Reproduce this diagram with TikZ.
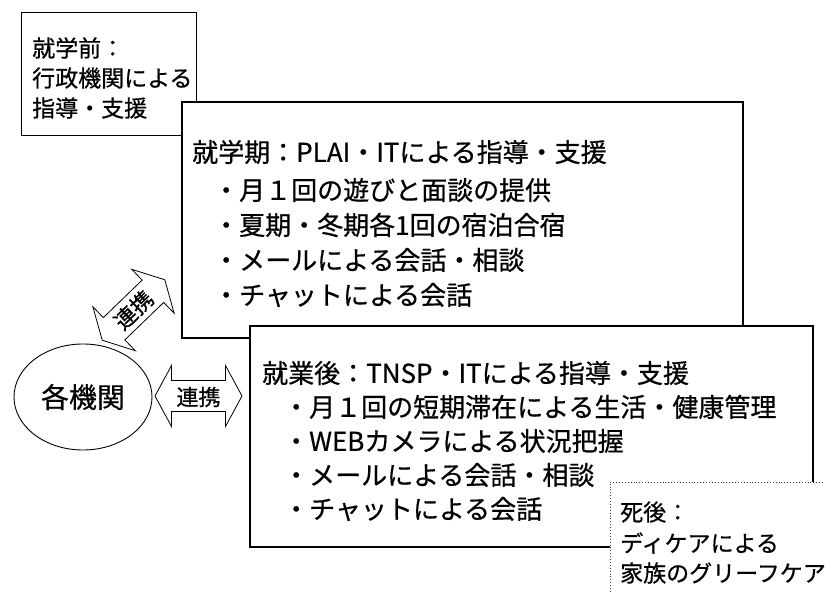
\documentclass[tikz,border=0pt]{standalone}
\usepackage{fontspec}
\setmainfont{Noto Sans CJK JP}[FakeBold=0.6]
\usetikzlibrary{shapes.geometric}
\begin{document}
\begin{tikzpicture}[x=1pt,y=-1pt,
  thinbox/.style={draw, fill=white, line width=1pt, inner sep=0pt},
  thickbox/.style={draw, fill=white, line width=1.8pt, inner sep=0pt},
  dotbox/.style={draw=black!75, fill=white, dotted, line width=0.9pt, inner sep=0pt},
  txt/.style={anchor=west, inner sep=0pt},
  big/.style={font=\fontsize{26}{30}\selectfont},
  small/.style={font=\fontsize{23}{27}\selectfont},
  lbl/.style={inner sep=0pt, font=\fontsize{22}{26}\selectfont},
  dblarrow/.pic={\draw[line width=0.8pt, fill=white]
    (-43.5,0) -- (-27,30.5) -- (-27,15.5) -- (27,15.5) -- (27,30.5) -- (43.5,0)
    -- (27,-30.5) -- (27,-15.5) -- (-27,-15.5) -- (-27,-30.5) -- cycle;}
]
\clip (0,0) rectangle (825,593);
\fill[white] (0,0) rectangle (825,593);

% boxes
\node[thinbox, minimum width=175, minimum height=123] (b0) at (108.5,74.5) {};
\node[thickbox, minimum width=561, minimum height=236] (b1) at (462.5,220) {};
\node[thickbox, minimum width=563, minimum height=221] (b2) at (531.5,436.5) {};
\node[dotbox, minimum width=220, minimum height=118] (b3) at (720,541) {};

% box 0 text
\node[txt, small] (t01) at (32,48) {就学前：};
\node[txt, small] (t02) at (32,78) {行政機関による};
\node[txt, small] (t03) at (32,108) {指導・支援};

% box 1 text
\node[txt, big] (t10) at (192,152) {就学期：PLAI・ITによる指導・支援};
\node[txt, big] (t11) at (213,190) {・月１回の遊びと面談の提供};
\node[txt, big] (t12) at (213,225) {・夏期・冬期各1回の宿泊合宿};
\node[txt, big] (t13) at (213,260) {・メールによる会話・相談};
\node[txt, big] (t14) at (213,295) {・チャットによる会話};

% box 2 text
\node[txt, big] (t20) at (262,373) {就業後：TNSP・ITによる指導・支援};
\node[txt, big] (t21) at (283,407) {・月１回の短期滞在による生活・健康管理};
\node[txt, big] (t22) at (283,441) {・WEBカメラによる状況把握};
\node[txt, big] (t23) at (283,475) {・メールによる会話・相談};
\node[txt, big] (t24) at (283,509) {・チャットによる会話};

% dotted box text
\node[txt, small] (t31) at (620,512) {死後：};
\node[txt, small] (t32) at (620,543) {ディケアによる};
\node[txt, small] (t33) at (620,573) {家族のグリーフケア};

% ellipse
\node[draw, ellipse, line width=0.9pt, minimum width=138, minimum height=106,
      inner sep=0pt, font=\fontsize{28}{32}\selectfont] (org) at (83,397) {各機関};

% double arrows
\pic at (198.5,396) {dblarrow};
\node[lbl] (l1) at (198.5,397) {連携};
\pic[rotate=44] at (133.5,310) {dblarrow};
\node[lbl, rotate=44] (l2) at (133.5,310) {連携};
\end{tikzpicture}
\end{document}
